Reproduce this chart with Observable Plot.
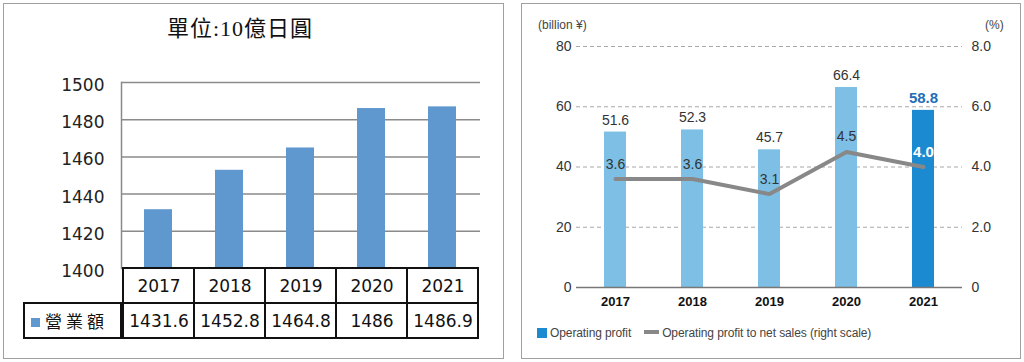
<!DOCTYPE html>
<html><head><meta charset="utf-8">
<script src="https://cdn.jsdelivr.net/npm/d3@7"></script>
<script src="https://cdn.jsdelivr.net/npm/@observablehq/plot@0.6"></script>
<style>
body{margin:0;width:1024px;height:362px;position:relative;overflow:hidden;background:#fff}
.abs{position:absolute}
#lp{left:3px;top:3px;width:501px;height:356px;border:1px solid #a0a0a0;box-sizing:border-box}
#rp{left:521px;top:3px;width:500px;height:356px;border:1px solid #a0a0a0;box-sizing:border-box}
#title{left:120px;top:13px;width:240px;text-align:center;font-family:"Liberation Serif","Noto Sans CJK TC",serif;font-size:22px;color:#111;line-height:32px;letter-spacing:1px}
#legcell{left:23px;top:302px;width:99px;height:37px;border:2px solid #111;box-sizing:border-box;font-family:"Noto Sans CJK TC",sans-serif;font-size:17px;color:#111;line-height:33px;letter-spacing:4px;background:#fff}
#legcell span.sq{display:inline-block;width:9px;height:9px;background:#5f97cf;margin:0 5px 0 6px;vertical-align:1px}
.rt{font-family:"Liberation Sans",Arial,sans-serif;font-size:12px;color:#444}
#unitL{left:538px;top:18px}
#unitR{left:985px;top:18px}
#rleg{left:537px;top:326px;white-space:nowrap;letter-spacing:-0.1px}
#rleg .sq{display:inline-block;width:10px;height:10px;background:#1c8ad0;vertical-align:-1px;margin-right:3px}
#rleg .ln{display:inline-block;width:15px;height:4px;background:#888;vertical-align:3px;margin:0 3px 0 13px}
svg{overflow:visible}
</style></head><body>
<div id="lp" class="abs"></div>
<div id="rp" class="abs"></div>
<div id="leftChart" class="abs" style="left:0;top:0"></div>
<div id="tableChart" class="abs" style="left:0;top:267px"></div>
<div id="title" class="abs">單位:10億日圓</div>
<div id="legcell" class="abs"><span class="sq"></span>營業額</div>
<div id="rightChart" class="abs" style="left:512px;top:0"></div>
<div id="unitL" class="abs rt">(billion ¥)</div>
<div id="unitR" class="abs rt">(%)</div>
<div id="rleg" class="abs rt"><span class="sq"></span>Operating profit<span class="ln"></span>Operating profit to net sales (right scale)</div>
<script>
const years = ["2017", "2018", "2019", "2020", "2021"];
const sales = [1431.6, 1452.8, 1464.8, 1486, 1486.9];
const salesLabels = ["1431.6", "1452.8", "1464.8", "1486", "1486.9"];
const salesTicks = [1400, 1420, 1440, 1460, 1480, 1500];
const profit = [51.6, 52.3, 45.7, 66.4, 58.8];
const ratio = [3.6, 3.6, 3.1, 4.5, 4.0];
const profitTicks = [0, 20, 40, 60, 80];
const ratioTicks = [0, 2, 4, 6, 8];

const salesData = years.map((y, i) => ({year: y, value: sales[i], label: salesLabels[i]}));
const rData = years.map((y, i) => ({year: y, profit: profit[i], ratio: ratio[i], r10: ratio[i] * 10}));

// LEFT: bar chart
const left = Plot.plot({
  width: 512, height: 269,
  marginLeft: 121, marginRight: 32, marginTop: 82, marginBottom: 1,
  x: {domain: years, paddingInner: 0.6, paddingOuter: 0.3, axis: null, label: null},
  y: {domain: [1400, 1500], axis: null, label: null},
  style: {fontFamily: "DejaVu Sans, sans-serif", fontSize: "17px", color: "#222", background: "transparent"},
  marks: [
    Plot.ruleY(salesTicks.filter(d => d > 1400), {stroke: "#8a8a8a", strokeWidth: 1.5}),
    Plot.axisY({ticks: salesTicks, tickSize: 0, tickPadding: 17, tickFormat: d => String(d), fontSize: 17, dy: 3, fill: "#222", label: null}),
    Plot.barY(salesData, {x: "year", y1: 1400, y2: "value", fill: "#5f97cf"}),
    Plot.frame({anchor: "left", stroke: "#8a8a8a", strokeWidth: 1.5})
  ]
});
document.getElementById("leftChart").append(left);

// LEFT: data table
const cells = [
  ...years.map(y => ({year: y, row: "year", label: y})),
  ...salesData.map(d => ({year: d.year, row: "value", label: d.label}))
];
const table = Plot.plot({
  width: 512, height: 72,
  marginLeft: 121, marginRight: 32, marginTop: 1, marginBottom: 1,
  x: {domain: years, padding: 0, axis: null, label: null},
  y: {domain: ["year", "value"], padding: 0, axis: null, label: null},
  style: {fontFamily: "DejaVu Sans, sans-serif", fontSize: "17px", color: "#111", background: "transparent"},
  marks: [
    Plot.cell(cells, {x: "year", y: "row", fill: "white", stroke: "#111", strokeWidth: 2, inset: 0}),
    Plot.text(cells, {x: "year", y: "row", text: "label", fontSize: 17, fill: "#111", dy: 1})
  ]
});
document.getElementById("tableChart").append(table);

// RIGHT: operating profit chart
const right = Plot.plot({
  width: 512, height: 362,
  marginLeft: 64, marginRight: 62, marginTop: 46, marginBottom: 75,
  x: {domain: years, paddingInner: 0.714, paddingOuter: 0.357, label: null},
  y: {domain: [0, 80], label: null},
  style: {fontFamily: "Liberation Sans, Arial, sans-serif", fontSize: "14px", color: "#333", background: "transparent"},
  marks: [
    Plot.ruleY(profitTicks.filter(d => d > 0), {stroke: "#a8a8a8", strokeDasharray: "4,3"}),
    Plot.axisY({ticks: profitTicks, tickSize: 0, tickPadding: 5, anchor: "left", fontSize: 14, fill: "#333", label: null}),
    Plot.axisY({ticks: ratioTicks.map(d => d * 10), tickSize: 0, tickPadding: 9, anchor: "right", fontSize: 14, fill: "#333", label: null,
      tickFormat: d => d === 0 ? "0" : (d / 10).toFixed(1)}),
    Plot.barY(rData, {filter: d => d.year !== "2021", x: "year", y: "profit", fill: "#7dbfe5"}),
    Plot.barY(rData, {filter: d => d.year === "2021", x: "year", y: "profit", fill: "#1c8ad0"}),
    Plot.ruleY([0], {stroke: "#777", strokeWidth: 1.5}),
    Plot.line(rData, {x: "year", y: "r10", stroke: "#888", strokeWidth: 4}),
    Plot.text(rData, {filter: d => d.year !== "2021", x: "year", y: "profit", dy: -12, text: d => d.profit.toFixed(1), fill: "#333", fontSize: 14}),
    Plot.text(rData, {filter: d => d.year === "2021", x: "year", y: "profit", dy: -12, text: d => d.profit.toFixed(1), fill: "#1f6eb7", fontSize: 15, fontWeight: "bold"}),
    Plot.text(rData, {filter: d => d.year !== "2021", x: "year", y: "r10", dy: -15, text: d => d.ratio.toFixed(1), fill: "#333", fontSize: 14}),
    Plot.text(rData, {filter: d => d.year === "2021", x: "year", y: "r10", dy: -15, text: d => d.ratio.toFixed(1), fill: "#fff", fontSize: 15, fontWeight: "bold"}),
    Plot.axisX({tickSize: 0, tickPadding: 9, fontSize: 13, fontWeight: "bold", fill: "#111", label: null})
  ]
});
document.getElementById("rightChart").append(right);
</script>
</body></html>
